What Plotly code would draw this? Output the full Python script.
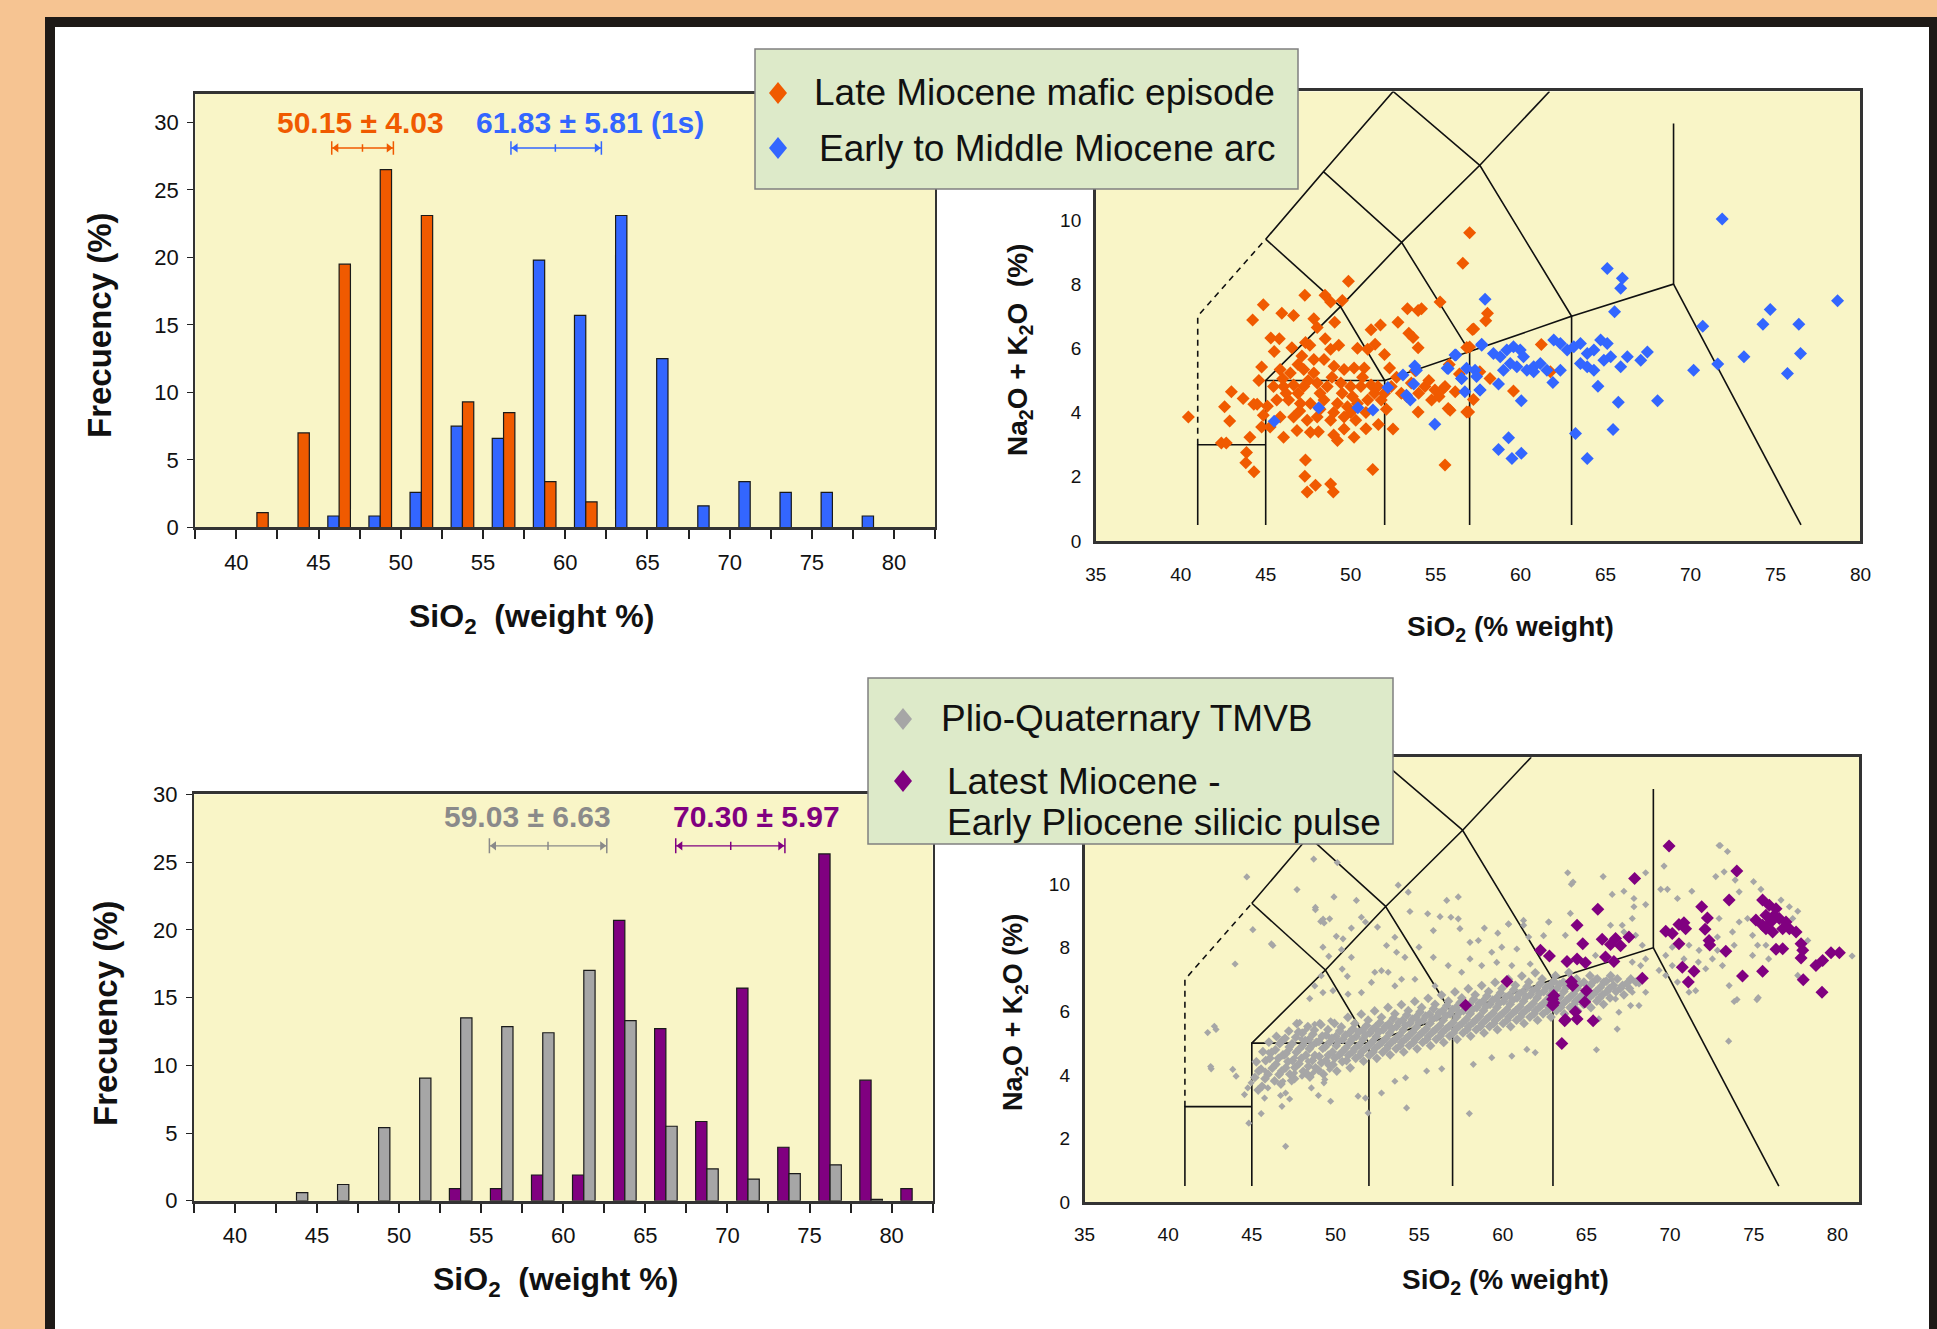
import plotly.graph_objects as go

FONT = "Liberation Sans, Arial, sans-serif"
W, H = 1937, 1329

# ---------------- Histogram data ----------------
bin_centers = [38.75, 41.25, 43.75, 46.25, 48.75, 51.25, 53.75, 56.25, 58.75,
               61.25, 63.75, 66.25, 68.75, 71.25, 73.75, 76.25, 78.75, 81.25]
bin_edges = [37.5, 40, 42.5, 45, 47.5, 50, 52.5, 55, 57.5, 60, 62.5, 65, 67.5,
             70, 72.5, 75, 77.5, 80, 82.5]
edge_labels = ["", "40", "", "45", "", "50", "", "55", "", "60", "", "65", "",
               "70", "", "75", "", "80", ""]

hist_early_arc = [0, 0, 0, 0.85, 0.85, 2.6, 7.5, 6.6, 19.8, 15.7, 23.1, 12.5,
                  1.6, 3.4, 2.6, 2.6, 0.85, 0]
hist_late_mafic = [0, 1.1, 7.0, 19.5, 26.5, 23.1, 9.3, 8.5, 3.4, 1.9, 0, 0,
                   0, 0, 0, 0, 0, 0]
hist_silicic = [0, 0, 0, 0, 0, 0, 0.9, 0.9, 1.9, 1.9, 20.7, 12.7, 5.85, 15.7,
                3.95, 25.6, 8.9, 0.9]
hist_tmvb = [0, 0, 0.6, 1.2, 5.4, 9.05, 13.5, 12.85, 12.4, 17.0, 13.3, 5.5,
             2.35, 1.6, 2.0, 2.65, 0.1, 0]

stats_top = ["50.15 ± 4.03", "61.83 ± 5.81 (1s)"]
stats_bottom = ["59.03 ± 6.63", "70.30 ± 5.97"]

# ---------------- TAS scatter data (SiO2, Na2O+K2O) ----------------
late_mafic_pts = [
    (40.45,3.86),(42.58,4.18),(42.88,3.74),(42.98,4.65),(43.67,4.44),(44.23,6.88),(44.86,7.36),
    (45.3,6.32),(44.3,4.26),(44.5,4.26),(44.76,5.42),(44.86,3.92),(44.76,3.55),(44.07,3.23),
    (42.39,3.05),(42.68,3.05),(43.87,2.76),(43.83,2.44),(44.31,2.16),(45.95,7.09),(46.64,7.02),
    (47.3,7.65),(46.54,6.02),(47.34,6.18),(47.83,6.92),(48.03,6.65),(48.49,7.65),(48.82,7.44),
    (49.06,6.81),(49.51,7.49),(49.87,8.09),(48.82,5.97),(47.13,5.76),(47.83,5.65),(48.43,5.65),
    (45.85,5.34),(46.45,5.23),(47.24,5.34),(47.83,5.23),(49.02,5.44),(49.61,5.34),(50.2,5.39),
    (50.8,5.39),(45.46,4.81),(46.05,4.81),(46.64,4.86),(47.24,4.81),(48.03,4.92),(48.62,4.81),
    (49.42,4.92),(50.0,4.81),(50.6,4.81),(51.2,4.86),(51.6,4.81),(45.65,4.39),(46.35,4.39),
    (47.04,4.28),(47.63,4.28),(48.43,4.39),(49.22,4.28),(49.81,4.18),(50.4,4.28),(51.0,4.39),
    (51.8,4.39),(45.85,3.86),(46.64,3.86),(47.44,3.76),(48.03,3.86),(48.82,3.76),(49.61,3.86),
    (50.3,3.76),(45.26,3.55),(46.05,3.23),(46.84,3.44),(47.63,3.39),(49.22,3.13),(50.2,3.23),
    (49.61,3.49),(47.34,2.52),(47.3,2.02),(47.93,1.74),(48.82,1.78),(48.98,1.53),(47.44,1.53),
    (51.3,2.23),(51.63,3.63),(52.49,3.49),(51.0,5.97),(51.2,6.58),(51.75,6.73),(51.99,5.81),
    (51.44,6.13),(52.29,5.39),(52.39,4.81),(51.99,4.6),(52.98,4.6),(52.78,6.81),(53.34,7.23),
    (53.97,7.18),(54.17,7.23),(53.42,6.47),(53.67,6.34),(53.97,6.02),(53.57,4.92),(54.37,4.81),
    (54.96,4.7),(55.55,4.81),(56.15,4.65),(54.76,4.39),(53.97,4.02),(55.26,7.44),(55.85,4.07),
    (55.55,2.37),(57.0,6.04),(57.24,6.6),(56.6,8.65),(57.0,9.6),(56.94,4.02),(58.05,7.09),
    (57.95,6.86),(57.16,6.59),(56.83,6.03),(61.22,6.12),(58.2,5.06),(57.6,5.27),(59.58,4.67),
    (55.74,4.13),(56.83,4.02),(55.45,4.75),(57.22,4.41),(61.75,5.27),
    (46.2,4.6),(46.9,4.6),(47.5,5.0),(48.2,4.6),(48.9,5.1),(49.5,4.6),(50.1,4.5),(50.7,5.1),
    (51.4,4.6),(46.0,5.05),(47.0,4.05),(48.2,4.1),(49.0,4.0),(50.0,4.0),(50.9,4.0),(52.1,4.1),
    (52.7,5.1),(53.3,4.5),(54.0,4.6),(54.6,5.0),(55.2,4.5),(56.4,5.2),(55.8,5.5),(53.8,5.3),
    (47.6,6.1),(48.5,6.3),(49.3,6.1),(50.4,6.0),(45.8,6.3),(46.9,5.5),(45.5,5.9),(44.6,5.0),
    (45.1,4.2),(48.1,3.4),(49.0,3.3),(50.9,3.5),
]
early_arc_pts = [
    (71.86,10.03),(65.1,8.49),(65.99,8.18),(65.89,7.87),(57.91,7.53),(65.53,7.14),(78.65,7.48),
    (74.69,7.21),(74.26,6.75),(76.37,6.75),(70.72,6.69),(76.47,5.84),(73.14,5.74),(71.6,5.51),
    (70.18,5.32),(75.7,5.22),(68.06,4.37),(65.75,4.32),(64.55,4.82),(60.04,4.37),(61.9,4.94),
    (58.7,4.89),(57.61,4.7),(56.53,5.06),(55.74,5.37),(56.14,5.79),(57.71,6.13),(59.29,3.22),
    (58.7,2.85),(59.49,2.57),(60.04,2.73),(63.23,3.35),(65.44,3.47),(63.92,2.57),
    (58.4,5.84),(58.8,5.74),(59.19,5.95),(59.58,6.05),(59.98,5.95),(59.39,5.53),(59.78,5.43),
    (60.37,5.32),(60.77,5.43),(61.16,5.53),(61.55,5.32),(61.95,6.26),(62.34,6.15),(62.74,5.95),
    (63.13,6.05),(63.52,6.15),(63.92,5.84),(64.31,5.95),(64.71,6.26),(65.1,6.15),(65.3,5.74),
    (64.9,5.63),(63.92,5.43),(63.52,5.53),(64.31,5.32),(65.89,5.43),(66.28,5.74),(67.07,5.63),
    (67.46,5.89),(62.34,5.32),(58.99,5.32),(60.17,5.74),(60.77,5.27),
    (45.5,3.73),(48.12,4.15),(50.42,4.15),(51.31,4.08),(52.19,4.78),(53.08,5.17),(53.77,5.45),
    (53.87,5.32),(53.71,4.89),(53.28,4.54),(53.51,4.39),(54.95,3.64),(55.68,5.38),(56.19,5.79),
    (56.53,5.06),(56.82,5.38),(57.32,5.32),(57.41,5.12),(57.61,4.7),(56.72,4.65),(57.71,6.1),
]
silicic_pts = [
    (69.94,11.2),(73.99,10.42),(67.88,10.18),(65.68,9.21),(64.44,8.71),(64.78,8.13),(62.25,7.92),
    (62.79,7.74),(63.84,7.57),(64.44,7.65),(64.94,7.53),(65.94,8.27),(66.44,8.1),(66.74,8.29),
    (67.54,8.34),(67.04,8.06),(66.64,7.57),(66.14,7.71),(68.34,7.04),(64.1,6.94),(64.18,6.81),
    (63.05,6.5),(63.05,6.26),(65.0,6.65),(64.9,6.29),(64.34,5.99),(64.44,5.76),(63.74,5.74),
    (65.4,5.7),(60.25,6.94),(69.74,8.52),(70.13,8.45),(70.53,8.73),(70.93,8.6),(70.83,8.79),
    (70.53,8.13),(71.89,9.29),(72.23,8.94),(72.09,8.58),(72.33,8.23),(72.37,8.09),(73.53,9.5),
    (73.33,7.89),(70.73,7.39),(71.43,7.26),(71.09,6.92),(74.33,7.11),(75.53,7.26),(75.53,9.5),
    (75.93,9.34),(76.33,9.23),(75.73,9.02),(75.13,8.87),(75.53,8.71),(76.03,8.81),(76.53,8.92),
    (76.93,8.81),(76.13,8.5),(76.73,8.6),(77.13,8.6),(77.53,8.5),(75.73,8.6),(76.23,9.02),
    (76.33,7.95),(76.73,7.97),(77.83,8.13),(77.93,7.92),(77.83,7.68),(78.72,7.44),(79.12,7.6),
    (79.62,7.84),(80.12,7.84),(77.96,6.99),(79.08,6.6),(57.78,6.19),(62.98,6.38),(62.98,6.19),
    (63.7,5.7),(63.53,4.99),
]
tmvb_scatter_pts = [
    (44.7,10.23),(48.7,10.79),(50.11,10.68),(47.7,9.83),(49.91,9.6),(51.25,9.49),(48.8,9.2),
    (49.12,8.83),(49.65,8.91),(49.32,8.78),(50.05,8.36),(50.45,8.28),(50.95,8.62),(51.55,8.96),
    (51.79,8.81),(52.51,8.65),(45.06,8.57),(46.26,8.07),(44.0,7.49),(49.25,8.02),(49.6,7.73),
    (50.36,7.94),(50.95,7.7),(50.4,7.33),(50.71,7.1),(49.15,7.12),(48.76,6.8),(49.25,6.59),
    (49.85,6.65),(48.46,6.4),(50.75,6.54),(51.55,6.59),(52.35,7.23),(52.75,7.28),(53.05,8.07),
    (53.55,8.33),(53.65,7.86),(54.15,7.7),(54.35,9.75),(53.75,9.97),(54.45,9.14),(55.51,9.07),
    (56.25,8.98),(56.9,8.96),(57.34,8.91),(56.65,9.49),(57.34,9.6),(55.85,8.54),(57.44,8.6),
    (58.04,8.17),(58.9,8.62),(59.7,8.46),(60.34,8.75),(61.24,8.86),(62.74,8.81),(62.44,8.38),
    (58.54,8.23),(59.34,7.86),(59.94,8.02),(60.84,7.96),(54.99,8.02),(55.85,7.7),(56.74,7.44),
    (57.54,7.23),(58.04,7.65),(58.74,7.44),(59.64,7.54),(60.54,7.44),(61.64,7.49),(55.95,6.8),
    (54.75,7.01),(53.95,7.01),(53.15,7.23),(53.55,6.8),(52.15,6.91),(42.36,5.33),(42.86,5.43),
    (42.57,4.19),(43.86,4.17),(44.06,3.96),(44.56,3.38),(44.76,3.59),(44.96,3.75),(44.82,2.48),
    (45.56,2.78),(45.76,3.27),(45.96,3.59),(45.8,4.12),(45.8,4.43),(46.0,4.7),(46.8,3.01),
    (46.72,3.35),(47.02,3.43),(47.26,3.24),(46.86,3.8),(47.02,1.75),(46.96,4.59),(47.56,4.06),
    (48.0,3.96),(48.56,3.59),(48.98,3.35),(49.71,3.17),(49.31,3.75),(51.35,3.33),(51.79,3.27),
    (51.95,2.8),(52.75,3.43),(53.55,3.8),(54.19,3.91),(54.25,2.96),(55.45,4.12),(56.35,4.19),
    (58.0,2.78),(58.24,4.33),(59.34,4.54),(60.54,4.59),(61.94,4.7),(61.44,4.8),(47.86,5.65),
    (48.16,5.38),(48.76,5.59),(49.06,5.65),(49.71,5.7),(47.96,5.12),(47.26,4.8),(47.56,4.54),
    (48.36,4.43),(48.66,4.06),(49.36,3.85),(49.65,4.17),
    (72.93,11.22),(73.43,11.03),(69.64,10.57),(68.54,10.36),(66.0,10.24),(63.88,10.36),(64.1,10.0),
    (66.54,9.68),(67.24,9.78),(67.84,9.55),(68.54,9.36),(69.44,9.84),(69.84,9.84),(70.44,9.55),
    (71.3,9.78),(72.73,10.24),(73.23,10.39),(73.89,10.13),(74.13,9.76),(74.99,10.08),(75.43,9.84),
    (72.93,8.92),(73.73,8.5),(74.13,8.81),(74.63,8.92),(73.83,8.08),(74.93,8.39),(75.23,8.08),
    (74.93,7.76),(75.73,8.08),(75.89,7.65),(76.63,9.5),(77.13,9.29),(77.63,9.15),(77.33,8.92),
    (78.23,8.23),(80.88,7.74),(72.83,8.34),(72.83,7.92),(72.53,7.65),(73.13,7.44),(72.13,7.34),
    (71.69,7.55),(71.73,7.92),(71.13,8.08),(70.13,8.02),(69.74,7.76),(70.83,7.65),(70.13,7.44),
    (69.34,7.29),(69.74,7.13),(70.44,6.92),(71.13,6.6),(71.53,6.65),(73.53,6.81),(73.83,6.31),
    (75.19,6.37),(77.63,7.13),(68.14,6.86),(68.54,6.6),(67.74,6.6),(67.64,6.18),(66.74,6.39),
    (66.94,5.97),(68.14,6.18),(68.24,7.44),(67.74,7.55),(68.34,8.08),(67.74,8.92),(67.84,9.29),
    (66.44,8.71),(67.14,8.71),(67.94,8.39),(62.75,8.81),(61.55,8.34),(61.25,8.71),(60.35,8.74),
    (64.04,9.08),(63.74,8.39),(65.54,7.76),(67.24,8.5),(68.54,7.65),(66.84,5.44),(65.74,5.76),
    (66.5,7.0),(65.54,7.02),(65.94,6.81),(46.17,8.12),(42.76,5.53),(42.54,4.26),(48.8,9.27),
    (49.26,8.9),(73.5,5.06),(75.27,6.43),(74.0,6.37),(73.0,11.22),(64.2,10.07),(65.6,4.79),
]
tmvb_band_pts = [
    (45.18,3.92),(45.27,4.41),(45.55,4.18),(45.66,4.73),(45.61,3.64),(45.97,4.02),(46.08,4.52),
    (46.02,5.03),(46.36,3.81),(46.44,4.33),(46.41,4.79),(46.47,5.21),(46.78,4.12),(46.86,4.63),
    (46.82,5.08),(46.74,3.71),(47.16,4.42),(47.24,4.88),(47.21,5.38),(47.27,4.02),(47.57,4.23),
    (47.66,4.71),(47.62,5.18),(47.55,3.88),(47.69,5.61),(47.96,4.52),(48.05,4.93),(48.01,5.31),
    (48.07,4.11),(48.38,4.27),(48.44,4.82),(48.42,5.12),(48.35,5.52),(48.47,3.93),(48.77,4.61),
    (48.85,5.02),(48.81,4.22),(48.74,5.41),(49.16,4.38),(49.24,4.83),(49.21,5.22),(49.28,4.02),
    (49.13,5.58),(49.57,4.62),(49.65,5.03),(49.62,4.31),(49.55,5.42),(49.96,4.53),(50.05,4.92),
    (50.02,5.21),(50.08,4.12),(49.94,5.62),(50.37,4.71),(50.45,5.12),(50.41,4.42),(50.35,5.51),
    (50.77,4.62),(50.85,5.01),(50.82,5.32),(50.88,4.22),(50.74,5.81),(51.16,4.83),(51.24,5.21),
    (51.21,4.52),(51.15,5.62),(51.56,4.72),(51.65,5.12),(51.62,5.41),(51.68,4.43),(51.54,5.91),
    (51.97,4.92),(52.05,5.32),(52.02,4.61),(51.95,5.72),(52.36,4.83),(52.44,5.21),(52.41,5.52),
    (52.47,4.52),(52.34,6.01),(52.77,5.02),(52.85,5.42),(52.82,4.71),(52.75,5.81),(53.16,4.92),
    (53.24,5.31),(53.21,5.62),(53.27,4.63),(53.14,6.12),(53.57,5.12),(53.65,5.52),(53.62,4.82),
    (53.55,5.92),(53.96,5.02),(54.05,5.41),(54.02,5.72),(54.08,4.72),(53.94,6.21),(54.37,5.22),
    (54.45,5.62),(54.41,4.92),(54.35,6.02),(54.77,5.12),(54.85,5.51),(54.82,5.82),(54.88,4.82),
    (54.74,6.31),(55.16,5.32),(55.24,5.72),(55.21,5.02),(55.15,6.12),(55.56,5.22),(55.65,5.62),
    (55.62,5.91),(55.68,4.92),(55.54,6.41),(55.97,5.42),(56.05,5.82),(56.02,5.12),(55.95,6.22),
    (56.36,5.32),(56.44,5.72),(56.41,6.02),(56.47,5.02),(56.34,6.51),(56.77,5.52),(56.85,5.92),
    (56.82,5.22),(56.75,6.32),(57.16,5.42),(57.24,5.82),(57.21,6.12),(57.27,5.12),(57.14,6.61),
    (57.57,5.62),(57.65,6.02),(57.62,5.32),(57.55,6.42),(57.96,5.52),(58.05,5.92),(58.02,6.22),
    (58.08,5.22),(57.94,6.71),(58.37,5.72),(58.45,6.12),(58.41,5.42),(58.35,6.52),(58.77,5.62),
    (58.85,6.02),(58.82,6.32),(58.88,5.32),(58.74,6.81),(59.16,5.82),(59.24,6.22),(59.21,5.52),
    (59.15,6.62),(59.56,5.72),(59.65,6.12),(59.62,6.42),(59.68,5.42),(59.54,6.91),(59.97,5.92),
    (60.05,6.32),(60.02,5.62),(59.95,6.72),(60.36,5.82),(60.44,6.22),(60.41,6.52),(60.47,5.52),
    (60.34,7.01),(60.77,6.02),(60.85,6.42),(60.82,5.72),(60.75,6.82),(61.16,5.92),(61.24,6.32),
    (61.21,6.62),(61.27,5.62),(61.14,7.11),(61.57,6.12),(61.65,6.52),(61.62,5.82),(61.55,6.92),
    (61.96,6.02),(62.05,6.42),(62.02,6.72),(62.08,5.72),(61.94,7.21),(62.37,6.22),(62.45,6.62),
    (62.41,5.92),(62.35,7.02),(62.77,6.12),(62.85,6.52),(62.82,6.82),(62.88,5.82),(63.16,6.32),
    (63.24,6.72),(63.21,6.02),(63.15,7.12),(63.56,6.22),(63.65,6.62),(63.62,6.92),(63.68,5.92),
    (63.97,6.42),(64.05,6.82),(64.02,6.12),(63.95,7.22),(64.36,6.32),(64.44,6.72),(64.41,7.02),
    (64.47,6.02),(64.77,6.52),(64.85,6.92),(64.82,6.22),(65.16,6.42),(65.24,6.82),(65.21,7.12),
    (65.27,6.12),(65.57,6.62),(65.65,7.02),(65.62,6.32),(65.96,6.52),(66.05,6.92),(66.02,6.22),
    (66.37,6.72),(66.45,7.12),(66.41,6.42),(66.77,6.62),(66.85,7.02),(67.16,6.82),(67.24,6.52),
    (67.57,6.72),(67.65,7.02),(67.96,6.92),
    (45.41,4.12),(45.38,3.52),(45.83,4.45),(45.79,3.88),(46.22,4.21),(46.18,4.71),(46.63,4.01),
    (46.59,4.52),(46.66,4.98),(47.02,4.22),(47.05,4.68),(46.99,5.15),(47.43,4.45),(47.41,4.98),
    (47.38,3.82),(47.82,4.35),(47.85,4.82),(47.79,5.35),(48.23,4.62),(48.19,5.08),(48.26,4.05),
    (48.62,4.45),(48.58,4.92),(48.65,5.28),(49.03,4.58),(49.01,5.05),(48.98,4.15),(49.42,4.45),
    (49.38,4.88),(49.45,5.25),(49.82,4.72),(49.79,5.15),(49.85,4.32),(50.22,4.62),(50.18,5.05),
    (50.25,5.38),(50.63,4.85),(50.59,5.25),(50.66,4.45),(51.02,4.72),(50.99,5.12),(51.05,5.45),
    (51.43,4.95),(51.39,5.35),(51.46,4.62),(51.83,4.85),(51.79,5.25),(51.86,5.55),(52.22,5.05),
    (52.19,5.42),(52.25,4.72),(52.62,4.95),(52.59,5.35),(52.66,5.65),(53.03,5.15),(52.99,5.52),
    (53.05,4.82),(53.42,5.05),(53.39,5.45),(53.46,5.78),(53.82,5.25),(53.79,5.65),(53.86,4.92),
    (54.23,5.15),(54.19,5.55),(54.26,5.88),(54.62,5.35),(54.59,5.75),(54.65,5.02),(55.03,5.25),
    (54.99,5.65),(55.05,5.98),(55.42,5.45),(55.39,5.85),(55.46,5.12),(55.82,5.35),(55.79,5.75),
    (55.86,6.08),(56.23,5.55),(56.19,5.95),(56.26,5.22),(56.62,5.45),(56.59,5.85),(56.66,6.18),
    (57.03,5.65),(56.99,6.05),(57.05,5.32),(57.42,5.55),(57.39,5.95),(57.46,6.28),(57.82,5.75),
    (57.79,6.15),(57.86,5.42),(58.23,5.65),(58.19,6.05),(58.26,6.38),(58.62,5.85),(58.59,6.25),
    (58.66,5.52),(59.03,5.75),(58.99,6.15),(59.05,6.48),(59.42,5.95),(59.39,6.35),(59.46,5.62),
    (59.82,5.85),(59.79,6.25),(59.86,6.58),(60.23,6.05),(60.19,6.45),(60.26,5.72),(60.62,5.95),
    (60.59,6.35),(60.66,6.68),(61.03,6.15),(60.99,6.55),(61.05,5.82),(61.42,6.05),(61.39,6.45),
    (61.46,6.78),(61.82,6.25),(61.79,6.65),(61.86,5.92),(62.23,6.15),(62.19,6.55),(62.26,6.88),
    (62.62,6.35),(62.59,6.75),(62.66,6.02),(63.03,6.25),(62.99,6.65),(63.05,6.95),(63.42,6.45),
    (63.39,6.85),(63.46,6.12),(63.82,6.35),(63.79,6.75),(64.23,6.55),(64.19,6.95),(64.26,6.22),
    (64.62,6.45),(64.59,6.85),(65.03,6.65),(64.99,6.32),(65.42,6.55),(65.39,6.92),(65.82,6.75),
    (65.79,6.42),(66.23,6.62),(66.19,6.95),(66.62,6.82),(67.03,6.72),(67.42,6.88),
]

# TAS classification field boundaries (Le Bas et al., 1986)
tas_solid_segments = [
    [(41, 0.5), (41, 3), (45, 3)], [(45, 0.5), (45, 5), (52, 5), (52, 0.5)],
    [(52, 5), (57, 5.9), (57, 0.5)], [(57, 5.9), (63, 7), (63, 0.5)],
    [(63, 7), (69, 8), (69, 13)], [(69, 8), (76.5, 0.5)],
    [(45, 5), (49.4, 7.3), (52, 5)], [(49.4, 7.3), (53, 9.3), (57, 5.9)],
    [(53, 9.3), (57.6, 11.7), (63, 7)], [(57.6, 11.7), (61.7, 14)],
    [(45, 9.4), (49.4, 7.3)], [(45, 9.4), (48.4, 11.5), (53, 9.3)],
    [(48.4, 11.5), (52.5, 14), (57.6, 11.7)],
]
tas_dashed_segment = [(41, 3), (41, 7), (45, 9.4)]

ORANGE = "#F05A00"
BLUE = "#3366FF"
PURPLE = "#800080"
GREY = "#A6A6A6"
GREY_TXT = "#8A8A8A"
PAGE = "#F6C492"
PLOTBG = "#F9F5C7"
LEGBG = "#DDEAC9"

fig = go.Figure()

def seg_xy(segments):
    xs, ys = [], []
    for seg in segments:
        for (a, b) in seg:
            xs.append(a); ys.append(b)
        xs.append(None); ys.append(None)
    return xs, ys

def add_bars(vals_left, vals_right, c_left, c_right, xa, ya):
    for vals, col in ((vals_left, c_left), (vals_right, c_right)):
        fig.add_trace(go.Bar(
            x=bin_centers, y=[v if v > 0 else None for v in vals],
            marker=dict(color=col, line=dict(color="#1a1a1a", width=1.2)),
            xaxis=xa, yaxis=ya, showlegend=False, hoverinfo="skip"))

add_bars(hist_early_arc, hist_late_mafic, BLUE, ORANGE, "x", "y")
add_bars(hist_silicic, hist_tmvb, PURPLE, GREY, "x3", "y3")

# error-bar style markers under the stats
def add_range_marker(x0, xc, x1, y, col, xa, ya, tick):
    fig.add_trace(go.Scatter(x=[x0, x1], y=[y, y], mode="lines",
                             line=dict(color=col, width=1.3), xaxis=xa, yaxis=ya,
                             showlegend=False, hoverinfo="skip"))
    fig.add_trace(go.Scatter(x=[x0 + 0.28, x1 - 0.28], y=[y, y], mode="markers",
                             marker=dict(symbol=["triangle-left", "triangle-right"],
                                         size=8, color=col),
                             xaxis=xa, yaxis=ya, showlegend=False, hoverinfo="skip"))
    for xx, hh in ((x0, tick), (x1, tick), (xc, tick * 0.55)):
        fig.add_trace(go.Scatter(x=[xx, xx], y=[y - hh, y + hh], mode="lines",
                                 line=dict(color=col, width=1.5), xaxis=xa, yaxis=ya,
                                 showlegend=False, hoverinfo="skip"))

add_range_marker(45.8, 47.67, 49.55, 28.1, ORANGE, "x", "y", 0.5)
add_range_marker(56.7, 59.4, 62.2, 28.1, BLUE, "x", "y", 0.5)
add_range_marker(55.5, 59.07, 62.65, 26.2, GREY_TXT, "x3", "y3", 0.55)
add_range_marker(66.85, 70.2, 73.5, 26.2, PURPLE, "x3", "y3", 0.55)

# TAS field lines + points
for xa, ya in (("x2", "y2"), ("x4", "y4")):
    sx, sy = seg_xy(tas_solid_segments)
    fig.add_trace(go.Scatter(x=sx, y=sy, mode="lines", line=dict(color="#111", width=1.6),
                             xaxis=xa, yaxis=ya, showlegend=False, hoverinfo="skip"))
    dx_, dy_ = seg_xy([tas_dashed_segment])
    fig.add_trace(go.Scatter(x=dx_, y=dy_, mode="lines",
                             line=dict(color="#111", width=1.6, dash="6px,5px"),
                             xaxis=xa, yaxis=ya, showlegend=False, hoverinfo="skip"))

def add_pts(pts, col, size, xa, ya):
    fig.add_trace(go.Scatter(x=[p[0] for p in pts], y=[p[1] for p in pts], mode="markers",
                             marker=dict(symbol="diamond", size=size, color=col,
                                         line=dict(width=0)),
                             xaxis=xa, yaxis=ya, showlegend=False, hoverinfo="skip"))

add_pts(late_mafic_pts, ORANGE, 10, "x2", "y2")
add_pts(early_arc_pts, BLUE, 10, "x2", "y2")
add_pts(tmvb_band_pts, GREY, 7.5, "x4", "y4")
add_pts(tmvb_scatter_pts, GREY, 5.5, "x4", "y4")
add_pts(silicic_pts, PURPLE, 10, "x4", "y4")

# ---------------- axes ----------------
hist_x = dict(range=[37.5, 82.5], tickvals=bin_edges, ticktext=edge_labels,
              ticks="outside", ticklen=9, tickwidth=1.5, tickcolor="#222",
              showline=True, linecolor="#333", linewidth=2.5, mirror=True,
              showgrid=False, zeroline=False, ticklabelstandoff=4,
              tickfont=dict(family=FONT, size=22, color="#111"))
hist_y = dict(tickvals=[0, 5, 10, 15, 20, 25, 30], ticks="outside", ticklen=6,
              tickwidth=1.2, tickcolor="#222", showline=True, linecolor="#333",
              linewidth=2, mirror=True, showgrid=False, zeroline=False,
              ticklabelstandoff=4, tickfont=dict(family=FONT, size=22, color="#111"))
tas_x = dict(tickvals=[35, 40, 45, 50, 55, 60, 65, 70, 75, 80], ticks="outside",
             ticklen=14, tickcolor="rgba(0,0,0,0)", showline=True, linecolor="#333",
             linewidth=2.5, mirror=True, showgrid=False, zeroline=False,
             tickfont=dict(family=FONT, size=19, color="#111"))
tas_y = dict(range=[0, 14], tickvals=[0, 2, 4, 6, 8, 10], ticks="outside", ticklen=8,
             tickcolor="rgba(0,0,0,0)", showline=True, linecolor="#333", linewidth=2.5,
             mirror=True, showgrid=False, zeroline=False,
             tickfont=dict(family=FONT, size=19, color="#111"))

fig.update_layout(
    width=W, height=H, margin=dict(l=0, r=0, t=0, b=0, autoexpand=False),
    paper_bgcolor="white", plot_bgcolor=PLOTBG,
    barmode="group", bargap=0.45, bargroupgap=0,
    xaxis=dict(hist_x, domain=[0.1008, 0.4828], anchor="y"),
    yaxis=dict(hist_y, domain=[0.6031, 0.9293], range=[0, 32.1], anchor="x"),
    xaxis2=dict(tas_x, domain=[0.5657, 0.9605], range=[35, 80], anchor="y2"),
    yaxis2=dict(tas_y, domain=[0.5929, 0.9312], anchor="x2"),
    xaxis3=dict(hist_x, domain=[0.1001, 0.4815], anchor="y3"),
    yaxis3=dict(hist_y, domain=[0.0965, 0.4023], range=[0, 30], anchor="x3"),
    xaxis4=dict(tas_x, domain=[0.5599, 0.9598], range=[35, 81.3], anchor="y4"),
    yaxis4=dict(tas_y, domain=[0.0956, 0.4303], anchor="x4"),
    font=dict(family=FONT),
)

# ---------------- page frame ----------------
def px_x(p): return p / W
def px_y(p): return 1 - p / H

shapes = [
    dict(type="rect", xref="paper", yref="paper", x0=0, x1=px_x(45), y0=0, y1=1,
         fillcolor=PAGE, line=dict(width=0), layer="above"),
    dict(type="rect", xref="paper", yref="paper", x0=0, x1=1, y0=px_y(17), y1=1,
         fillcolor=PAGE, line=dict(width=0), layer="above"),
    dict(type="rect", xref="paper", yref="paper", x0=px_x(45), x1=px_x(55), y0=0, y1=px_y(17),
         fillcolor="#1E1A17", line=dict(width=0), layer="above"),
    dict(type="rect", xref="paper", yref="paper", x0=px_x(45), x1=1, y0=px_y(27), y1=px_y(17),
         fillcolor="#1E1A17", line=dict(width=0), layer="above"),
    dict(type="rect", xref="paper", yref="paper", x0=px_x(1929), x1=1, y0=0, y1=px_y(17),
         fillcolor="#1E1A17", line=dict(width=0), layer="above"),
    # legend boxes
    dict(type="rect", xref="paper", yref="paper", x0=px_x(755), x1=px_x(1298),
         y0=px_y(189), y1=px_y(49), fillcolor=LEGBG, line=dict(color="#808080", width=1.5),
         layer="above"),
    dict(type="rect", xref="paper", yref="paper", x0=px_x(868), x1=px_x(1393),
         y0=px_y(844), y1=px_y(678), fillcolor=LEGBG, line=dict(color="#808080", width=1.5),
         layer="above"),
]

def diamond(cx, cy, col, hw=9, hh=11):
    path = (f"M {px_x(cx - hw)},{px_y(cy)} L {px_x(cx)},{px_y(cy - hh)} "
            f"L {px_x(cx + hw)},{px_y(cy)} L {px_x(cx)},{px_y(cy + hh)} Z")
    return dict(type="path", xref="paper", yref="paper", path=path, fillcolor=col,
                line=dict(width=0), layer="above")

shapes += [diamond(778, 93, ORANGE), diamond(778, 148, BLUE),
           diamond(903, 719, GREY), diamond(903, 781, PURPLE)]
fig.update_layout(shapes=shapes)

ann = []
def txt(x, y, s, size, color="#111", bold=False, xanchor="left", angle=0, xref="paper",
        yref="paper"):
    ann.append(dict(x=x, y=y, xref=xref, yref=yref, text=(f"<b>{s}</b>" if bold else s),
                    showarrow=False, xanchor=xanchor, yanchor="middle", textangle=angle,
                    font=dict(family=FONT, size=size, color=color)))

# legend texts
txt(px_x(812), px_y(93), "Late Miocene mafic episode", 37)
txt(px_x(817), px_y(148), "Early to Middle Miocene arc", 37)
txt(px_x(939), px_y(719), "Plio-Quaternary TMVB", 37)
txt(px_x(945), px_y(781), "Latest Miocene -", 37)
txt(px_x(945), px_y(822), "Early Pliocene silicic pulse", 37)

# stats
txt(47.52, 30.0, stats_top[0], 30, ORANGE, True, "center", xref="x", yref="y")
txt(61.5, 30.0, stats_top[1], 30, BLUE, True, "center", xref="x", yref="y")
txt(57.83, 28.35, stats_bottom[0], 30, GREY_TXT, True, "center", xref="x3", yref="y3")
txt(71.74, 28.35, stats_bottom[1], 30, PURPLE, True, "center", xref="x3", yref="y3")

# axis titles
txt(px_x(99), px_y(325), "Frecuency (%)", 33, bold=True, xanchor="center", angle=-90)
txt(px_x(531), px_y(618), "SiO<sub>2</sub>  (weight %)", 32, bold=True, xanchor="center")
txt(px_x(105), px_y(1013), "Frecuency (%)", 33, bold=True, xanchor="center", angle=-90)
txt(px_x(555), px_y(1281), "SiO<sub>2</sub>  (weight %)", 32, bold=True, xanchor="center")
txt(px_x(1019), px_y(350), "Na<sub>2</sub>O + K<sub>2</sub>O  (%)", 28, bold=True,
    xanchor="center", angle=-90)
txt(px_x(1510), px_y(628), "SiO<sub>2</sub> (% weight)", 28, bold=True, xanchor="center")
txt(px_x(1015), px_y(1013), "Na<sub>2</sub>O + K<sub>2</sub>O (%)", 27, bold=True,
    xanchor="center", angle=-90)
txt(px_x(1505), px_y(1281), "SiO<sub>2</sub> (% weight)", 28, bold=True, xanchor="center")

fig.update_layout(annotations=ann)
fig.write_html(
    "out.html",
    config={"displayModeBar": False},
    post_script=("document.documentElement.style.margin='0';"
                 "document.documentElement.style.overflow='hidden';"
                 "document.body.style.margin='0';document.body.style.padding='0';"
                 "document.body.style.overflow='hidden';"
                 f"document.body.style.background='{PAGE}';"),
)
